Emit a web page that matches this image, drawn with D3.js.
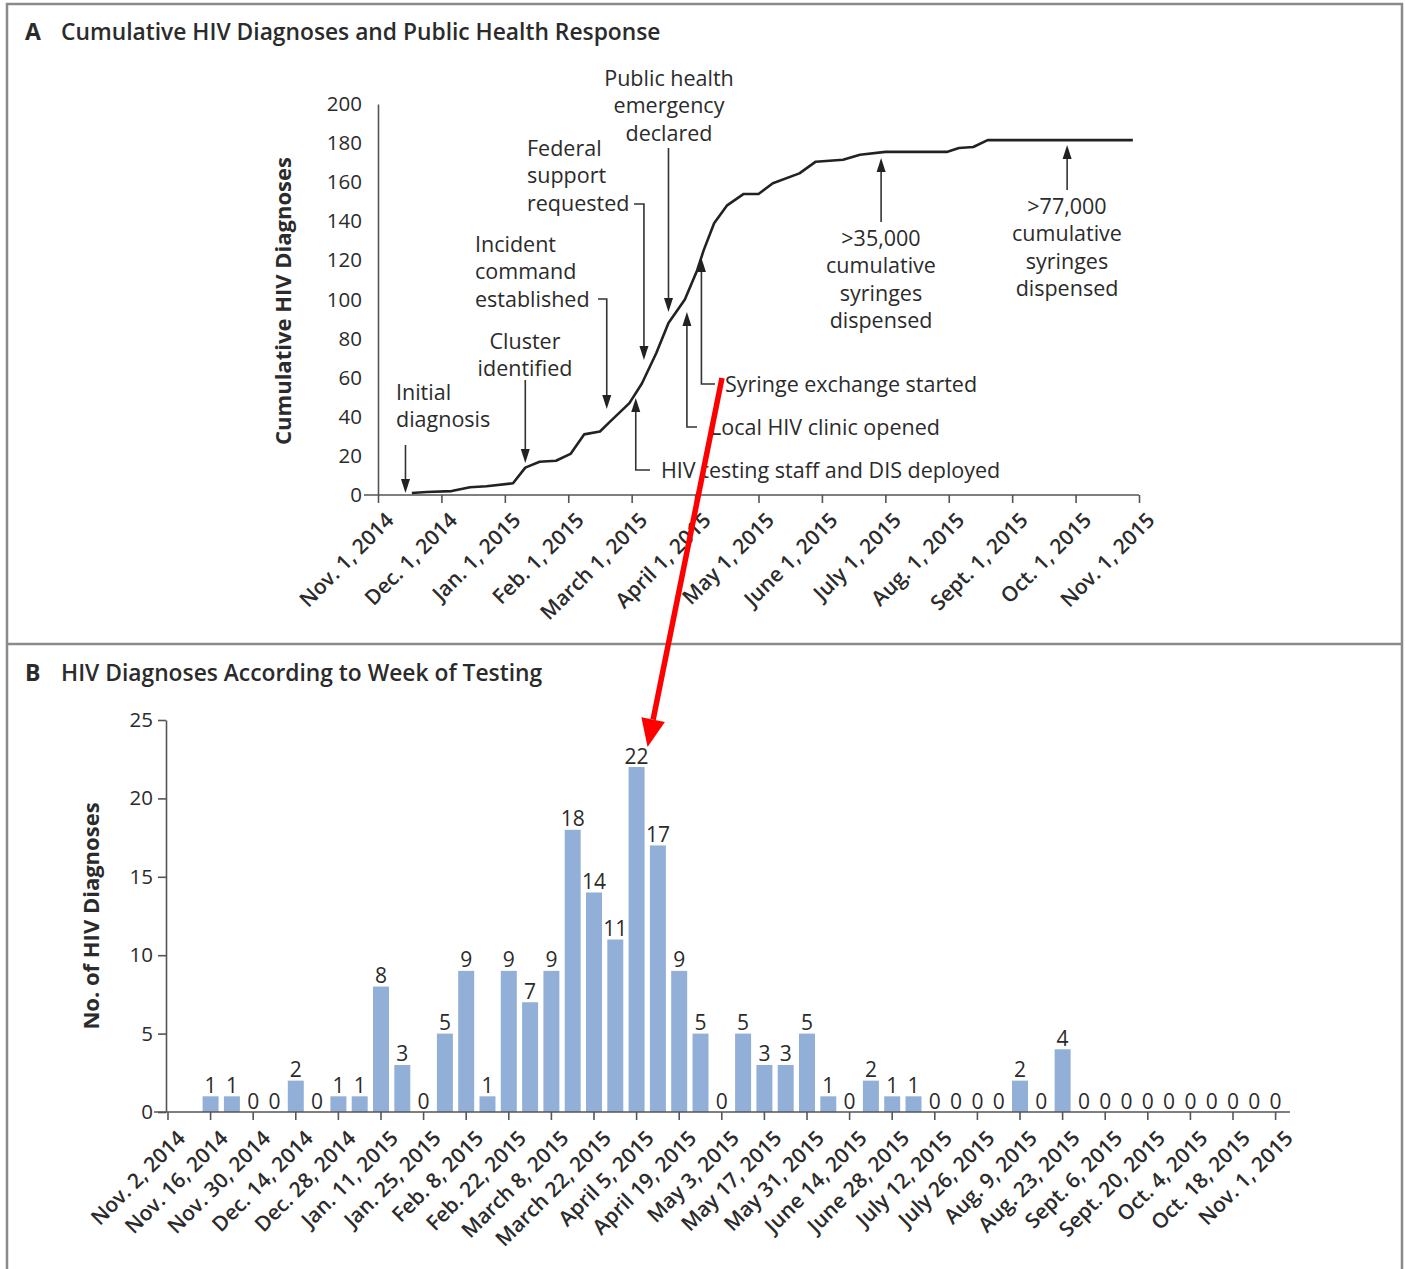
<!DOCTYPE html>
<html>
<head>
<meta charset="utf-8">
<script src="https://cdn.jsdelivr.net/npm/d3@7"></script>
<style>
  html, body { margin: 0; padding: 0; background: #fff; }
  svg text { font-family: "Open Sans", "Noto Sans", sans-serif; fill: #2b2b2b; }
</style>
</head>
<body>
<svg id="chart" width="1405" height="1269"></svg>
<script>
// ---------------- DATA ----------------
// Panel A: cumulative HIV diagnoses
const curveDates = ["2014-11-17","2014-11-24","2014-12-06","2014-12-15","2014-12-23","2015-01-05","2015-01-11","2015-01-18","2015-01-26","2015-02-02","2015-02-08","2015-02-15","2015-02-19","2015-02-28","2015-03-06","2015-03-13","2015-03-19","2015-03-27","2015-04-02","2015-04-05","2015-04-10","2015-04-16","2015-04-24","2015-05-01","2015-05-08","2015-05-21","2015-05-29","2015-06-11","2015-06-19","2015-07-01","2015-07-31","2015-08-06","2015-08-13","2015-08-20","2015-10-29"];
const curveValues = [1,1.5,2,4,4.5,6,14,17,17.5,21,31,32.5,37,47,57,72.5,88,100,115,125,139,148,154,154,159.5,164.5,170.5,171.5,174,175.5,175.5,177.5,178,181.5,181.5];
const cumYTicks = [0,20,40,60,80,100,120,140,160,180,200];
const monthTickDates = ["2014-11-01","2014-12-01","2015-01-01","2015-02-01","2015-03-01","2015-04-01","2015-05-01","2015-06-01","2015-07-01","2015-08-01","2015-09-01","2015-10-01","2015-11-01"];
const monthTickLabels = ["Nov. 1, 2014","Dec. 1, 2014","Jan. 1, 2015","Feb. 1, 2015","March 1, 2015","April 1, 2015","May 1, 2015","June 1, 2015","July 1, 2015","Aug. 1, 2015","Sept. 1, 2015","Oct. 1, 2015","Nov. 1, 2015"];
const eventLabels = [
  ["Initial","diagnosis"],
  ["Cluster","identified"],
  ["Incident","command","established"],
  ["Federal","support","requested"],
  ["Public health","emergency","declared"],
  ["HIV testing staff and DIS deployed"],
  ["Local HIV clinic opened"],
  ["Syringe exchange started"],
  [">35,000","cumulative","syringes","dispensed"],
  [">77,000","cumulative","syringes","dispensed"]
];
const eventDates = ["2014-11-14","2015-01-11","2015-02-18","2015-03-07","2015-03-19","2015-03-03","2015-03-28","2015-04-04","2015-06-29","2015-09-27"];

// Panel B: weekly HIV diagnoses
const weekDates = ["2014-11-02","2014-11-09","2014-11-16","2014-11-23","2014-11-30","2014-12-07","2014-12-14","2014-12-21","2014-12-28","2015-01-04","2015-01-11","2015-01-18","2015-01-25","2015-02-01","2015-02-08","2015-02-15","2015-02-22","2015-03-01","2015-03-08","2015-03-15","2015-03-22","2015-03-29","2015-04-05","2015-04-12","2015-04-19","2015-04-26","2015-05-03","2015-05-10","2015-05-17","2015-05-24","2015-05-31","2015-06-07","2015-06-14","2015-06-21","2015-06-28","2015-07-05","2015-07-12","2015-07-19","2015-07-26","2015-08-02","2015-08-09","2015-08-16","2015-08-23","2015-08-30","2015-09-06","2015-09-13","2015-09-20","2015-09-27","2015-10-04","2015-10-11","2015-10-18","2015-10-25","2015-11-01"];
const weekCounts = [null,null,1,1,0,0,2,0,1,1,8,3,0,5,9,1,9,7,9,18,14,11,22,17,9,5,0,5,3,3,5,1,0,2,1,1,0,0,0,0,2,0,4,0,0,0,0,0,0,0,0,0,0];
const weekTickLabels = ["Nov. 2, 2014","Nov. 16, 2014","Nov. 30, 2014","Dec. 14, 2014","Dec. 28, 2014","Jan. 11, 2015","Jan. 25, 2015","Feb. 8, 2015","Feb. 22, 2015","March 8, 2015","March 22, 2015","April 5, 2015","April 19, 2015","May 3, 2015","May 17, 2015","May 31, 2015","June 14, 2015","June 28, 2015","July 12, 2015","July 26, 2015","Aug. 9, 2015","Aug. 23, 2015","Sept. 6, 2015","Sept. 20, 2015","Oct. 4, 2015","Oct. 18, 2015","Nov. 1, 2015"];
const weekYTicks = [0,5,10,15,20,25];

// ---------------- LAYOUT ----------------
const parse = d3.timeParse("%Y-%m-%d");
const svg = d3.select("#chart");
const ink = "#2b2b2b", axisCol = "#555";

// frame
svg.append("rect").attr("x", 7).attr("y", 4).attr("width", 1395).attr("height", 1270)
  .attr("fill", "none").attr("stroke", "#8a8a8a").attr("stroke-width", 2.5);
svg.append("line").attr("x1", 7).attr("x2", 1402).attr("y1", 644).attr("y2", 644)
  .attr("stroke", "#8a8a8a").attr("stroke-width", 2.5);

// titles
function panelTitle(letter, text, y) {
  const t = svg.append("text").attr("x", 25).attr("y", y).style("font-size", "23px");
  t.append("tspan").text(letter).style("font-weight", 700);
  t.append("tspan").attr("x", 61).text(text).style("font-weight", 600).style("font-size", "22.8px");
}
panelTitle("A", "Cumulative HIV Diagnoses and Public Health Response", 40);
panelTitle("B", "HIV Diagnoses According to Week of Testing", 681);

// ---------- Panel A ----------
const ax0 = 378, ax1 = 1139, ay0 = 495, ay1 = 104;
const xA = d3.scaleTime()
  .domain(monthTickDates.map(parse))
  .range(monthTickDates.map((d, i) => ax0 + i * (ax1 - ax0) / (monthTickDates.length - 1)));
const yA = d3.scaleLinear().domain([0, 200]).range([ay0, ay1]);

const gA = svg.append("g");
// y axis
const yAxA = gA.append("g").attr("transform", `translate(${ax0},0)`)
  .call(d3.axisLeft(yA).tickValues(cumYTicks).tickSize(0).tickPadding(16));
yAxA.select(".domain").attr("stroke", axisCol).attr("stroke-width", 1.6);
yAxA.selectAll("text").style("font-size", "20.5px").attr("fill", ink).style("font-family", "Open Sans");
// x axis
const xAxA = gA.append("g").attr("transform", `translate(0,${ay0})`)
  .call(d3.axisBottom(xA).tickValues(monthTickDates.map(parse))
    .tickFormat((d, i) => monthTickLabels[i]).tickSize(8).tickSizeOuter(0));
xAxA.select(".domain").remove();
xAxA.selectAll(".tick line").attr("stroke", axisCol).attr("stroke-width", 1.6);
xAxA.selectAll("text").style("font-size", "21px").style("font-weight", 600).attr("fill", ink).style("font-family", "Open Sans")
  .attr("text-anchor", "end").attr("transform", "translate(2,12) rotate(-45)")
  .attr("dy", "0.6em").attr("y", 8);
gA.append("line").attr("x1", ax0 - 14).attr("x2", ax1).attr("y1", ay0).attr("y2", ay0)
  .attr("stroke", axisCol).attr("stroke-width", 1.6);
// y title
gA.append("text").attr("transform", `translate(291,301) rotate(-90)`).attr("text-anchor", "middle")
  .style("font-size", "22px").style("font-weight", 700).text("Cumulative HIV Diagnoses");

// curve
const curvePts = curveDates.map((d, i) => [parse(d), curveValues[i]]);
gA.append("path").datum(curvePts)
  .attr("d", d3.line().x(d => xA(d[0])).y(d => yA(d[1])))
  .attr("fill", "none").attr("stroke", "#222").attr("stroke-width", 2.6).attr("stroke-linejoin", "round");

// annotations
const evLayout = [
  {kind: "down", tail: 445, tip: 493, tx: 396, anchor: "start", ty: 392},
  {kind: "down", tail: 380, tip: 463, tx: 525, anchor: "middle", ty: 341},
  {kind: "elbowDown", ex: 598, ey: 299, tip: 409, tx: 475, anchor: "start", ty: 244},
  {kind: "elbowDown", ex: 634, ey: 204, tip: 360, tx: 527, anchor: "start", ty: 148},
  {kind: "down", tail: 148, tip: 312, tx: 669, anchor: "middle", ty: 78},
  {kind: "elbowUp", ex: 650, ey: 470, tip: 398, tx: 661, anchor: "start", ty: 470},
  {kind: "elbowUp", ex: 697, ey: 427, tip: 312, tx: 710, anchor: "start", ty: 427},
  {kind: "elbowUp", ex: 715, ey: 384, tip: 258, tx: 725, anchor: "start", ty: 384},
  {kind: "up", tail: 222, tip: 158, tx: 881, anchor: "middle", ty: 238},
  {kind: "up", tail: 190, tip: 145, tx: 1067, anchor: "middle", ty: 206}
];
const lineH = 27.6;
function head(x, y, dir) { // dir: 1 = pointing down, -1 = pointing up
  const L = 14, W = 4.5;
  return `M${x},${y} L${x - W},${y - dir * L} L${x + W},${y - dir * L} Z`;
}
eventLabels.forEach((lines, i) => {
  const L = evLayout[i];
  const x = xA(parse(eventDates[i]));
  const g = gA.append("g");
  let d;
  let dir;
  if (L.kind === "down") { d = `M${x},${L.tail} L${x},${L.tip - 10}`; dir = 1; }
  else if (L.kind === "up") { d = `M${x},${L.tail} L${x},${L.tip + 10}`; dir = -1; }
  else if (L.kind === "elbowDown") { d = `M${L.ex},${L.ey} L${x},${L.ey} L${x},${L.tip - 10}`; dir = 1; }
  else { d = `M${L.ex},${L.ey} L${x},${L.ey} L${x},${L.tip + 10}`; dir = -1; }
  g.append("path").attr("d", d).attr("fill", "none").attr("stroke", "#333").attr("stroke-width", 1.6);
  g.append("path").attr("d", head(x, L.tip, dir)).attr("fill", "#222");
  const t = g.append("text").attr("text-anchor", L.anchor).style("font-size", "21.5px");
  lines.forEach((ln, j) => {
    t.append("tspan").attr("x", L.tx).attr("y", L.ty + j * lineH).attr("dy", "0.35em").text(ln);
  });
});

// ---------- Panel B ----------
const by0 = 1112, by1 = 720;
const xB = d3.scaleBand().domain(weekDates).range([160, 1283.6]).paddingInner(0.25).paddingOuter(0);
const yB = d3.scaleLinear().domain([0, 25]).range([by0, by1]);
const gB = svg.append("g");
const byAx = 166;

// bars
const barData = weekDates.map((d, i) => ({d, v: weekCounts[i]})).filter(o => o.v !== null);
gB.selectAll("rect.bar").data(barData).enter().append("rect")
  .attr("class", "bar")
  .attr("x", o => xB(o.d)).attr("width", xB.bandwidth())
  .attr("y", o => yB(o.v)).attr("height", o => by0 - yB(o.v))
  .attr("fill", "#91afd7");
gB.selectAll("text.val").data(barData).enter().append("text")
  .attr("class", "val")
  .attr("x", o => xB(o.d) + xB.bandwidth() / 2)
  .attr("y", o => yB(o.v) - 3.5)
  .attr("text-anchor", "middle").style("font-size", "21px")
  .text(o => o.v);

// y axis
const yAxB = gB.append("g").attr("transform", `translate(${byAx},0)`)
  .call(d3.axisLeft(yB).tickValues(weekYTicks).tickSize(8).tickPadding(5).tickSizeOuter(0));
yAxB.select(".domain").attr("stroke", axisCol).attr("stroke-width", 1.6);
yAxB.selectAll(".tick line").attr("stroke", axisCol).attr("stroke-width", 1.6);
yAxB.selectAll("text").style("font-size", "20.5px").attr("fill", ink).style("font-family", "Open Sans");
// x axis
const tickWeeks = weekDates.filter((d, i) => i % 2 === 0);
const xAxB = gB.append("g").attr("transform", `translate(0,${by0})`)
  .call(d3.axisBottom(xB).tickValues(tickWeeks)
    .tickFormat((d, i) => weekTickLabels[i]).tickSize(8).tickSizeOuter(0));
xAxB.select(".domain").remove();
xAxB.selectAll(".tick line").attr("stroke", axisCol).attr("stroke-width", 1.6);
xAxB.selectAll("text").style("font-size", "21px").style("font-weight", 600).attr("fill", ink).style("font-family", "Open Sans")
  .attr("text-anchor", "end").attr("transform", "translate(4,13) rotate(-45)")
  .attr("dy", "0.6em").attr("y", 8);
gB.append("line").attr("x1", byAx - 12).attr("x2", 1290).attr("y1", by0).attr("y2", by0)
  .attr("stroke", axisCol).attr("stroke-width", 1.6);
gB.append("text").attr("transform", `translate(99,916) rotate(-90)`).attr("text-anchor", "middle")
  .style("font-size", "22px").style("font-weight", 700).text("No. of HIV Diagnoses");

// red overlay arrow: from the syringe-exchange label to the peak week bar
(function () {
  const sx = evLayout[7].tx - 3, sy = evLayout[7].ty - 6;
  const peakIdx = weekCounts.indexOf(d3.max(weekCounts));
  const ex = xB(weekDates[peakIdx]) + xB.bandwidth() + 3, ey = yB(weekCounts[peakIdx]) - 20;
  const ang = Math.atan2(ey - sy, ex - sx);
  const HL = 28, HW = 12;
  const bx = ex - HL * Math.cos(ang), byy = ey - HL * Math.sin(ang);
  svg.append("line").attr("x1", sx).attr("y1", sy).attr("x2", bx).attr("y2", byy)
    .attr("stroke", "#ff0000").attr("stroke-width", 5.5);
  const px = -Math.sin(ang), py = Math.cos(ang);
  svg.append("path")
    .attr("d", `M${ex},${ey} L${bx + HW * px},${byy + HW * py} L${bx - HW * px},${byy - HW * py} Z`)
    .attr("fill", "#ff0000");
})();
</script>
</body>
</html>
